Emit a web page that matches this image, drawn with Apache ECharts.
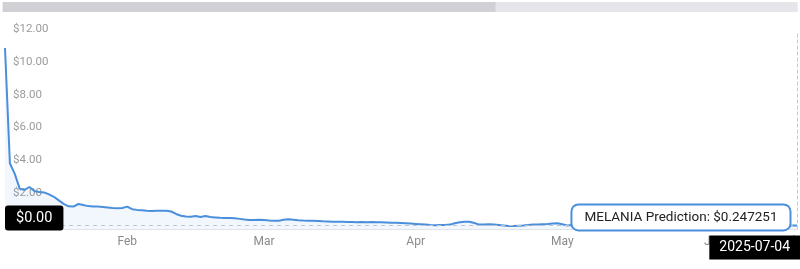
<!DOCTYPE html>
<html>
<head>
<meta charset="utf-8">
<script src="https://cdn.jsdelivr.net/npm/echarts@6/dist/echarts.min.js"></script>
<style>
  html, body { margin: 0; padding: 0; background: #fff; }
  #chart { width: 800px; height: 269px; }
</style>
</head>
<body>
<div id="chart"></div>
<script>
// Categories (dates)
const categories = [
  '2025-01-19 12:00',
  '2025-01-20 00:00','2025-01-20 12:00','2025-01-21 00:00','2025-01-21 12:00',
  '2025-01-22 00:00','2025-01-22 12:00','2025-01-23 00:00','2025-01-23 12:00',
  '2025-01-24 00:00','2025-01-24 12:00','2025-01-25 00:00','2025-01-25 12:00',
  '2025-01-26 00:00','2025-01-26 12:00','2025-01-27 00:00','2025-01-27 12:00',
  '2025-01-28 00:00','2025-01-28 12:00','2025-01-29 00:00','2025-01-29 12:00',
  '2025-01-30 00:00','2025-01-30 12:00','2025-01-31 00:00','2025-01-31 12:00',
  '2025-02-01','2025-02-02','2025-02-03','2025-02-04','2025-02-05','2025-02-06','2025-02-07',
  '2025-02-08','2025-02-09','2025-02-10','2025-02-11','2025-02-12','2025-02-13','2025-02-14',
  '2025-02-15','2025-02-16','2025-02-17','2025-02-18','2025-02-19','2025-02-20','2025-02-21',
  '2025-02-22','2025-02-23','2025-02-24','2025-02-25','2025-02-26','2025-02-27','2025-02-28',
  '2025-03-01','2025-03-02','2025-03-03','2025-03-04','2025-03-05','2025-03-06','2025-03-07',
  '2025-03-08','2025-03-09','2025-03-10','2025-03-11','2025-03-12','2025-03-13','2025-03-14',
  '2025-03-15','2025-03-16','2025-03-17','2025-03-18','2025-03-19','2025-03-20','2025-03-21',
  '2025-03-22','2025-03-23','2025-03-24','2025-03-25','2025-03-26','2025-03-27','2025-03-28',
  '2025-03-29','2025-03-30','2025-03-31',
  '2025-04-01','2025-04-02','2025-04-03','2025-04-04','2025-04-05','2025-04-06','2025-04-07',
  '2025-04-08','2025-04-09','2025-04-10','2025-04-11','2025-04-12','2025-04-13','2025-04-14',
  '2025-04-15','2025-04-16','2025-04-17','2025-04-18','2025-04-19','2025-04-20','2025-04-21',
  '2025-04-22','2025-04-23','2025-04-24','2025-04-25','2025-04-26','2025-04-27','2025-04-28',
  '2025-04-29','2025-04-30',
  '2025-05-01','2025-05-02','2025-05-03','2025-05-04','2025-05-05','2025-05-06','2025-05-07',
  '2025-05-08','2025-05-09','2025-05-10','2025-05-11','2025-05-12','2025-05-13','2025-05-14',
  '2025-05-15','2025-05-16','2025-05-17','2025-05-18','2025-05-19','2025-05-20','2025-05-21',
  '2025-05-22','2025-05-23','2025-05-24','2025-05-25','2025-05-26','2025-05-27','2025-05-28',
  '2025-05-29','2025-05-30','2025-05-31',
  '2025-06-01','2025-06-03','2025-06-05','2025-06-07','2025-06-09','2025-06-11','2025-06-13',
  '2025-06-15','2025-06-17','2025-06-19','2025-06-21','2025-06-23','2025-06-25','2025-06-27',
  '2025-06-29','2025-07-01','2025-07-03','2025-07-04'
];

// Price values (USD)
const prices = [
  // Jan
  11.1, 4.05, 3.4, 2.5, 2.42, 2.6, 2.35, 2.3, 2.27, 2.15, 2.0, 1.78, 1.57, 1.42, 1.4,
  1.56, 1.5, 1.43, 1.41, 1.4, 1.38, 1.35, 1.32, 1.3, 1.32,
  // Feb
  1.4, 1.24, 1.2, 1.18, 1.14, 1.13, 1.14, 1.15, 1.15, 1.1, 0.95, 0.84, 0.8, 0.78,
  0.82, 0.76, 0.82, 0.76, 0.74, 0.72, 0.71, 0.7, 0.69, 0.65, 0.61, 0.58, 0.58, 0.59,
  // Mar
  0.58, 0.55, 0.53, 0.54, 0.6, 0.63, 0.6, 0.57, 0.55, 0.54, 0.53, 0.52, 0.5, 0.49, 0.48,
  0.47, 0.47, 0.46, 0.46, 0.45, 0.46, 0.45, 0.46, 0.45, 0.44, 0.43, 0.42, 0.41, 0.4, 0.38, 0.36,
  // Apr
  0.34, 0.32, 0.3, 0.27, 0.26, 0.27, 0.28, 0.3, 0.38, 0.44, 0.48, 0.47, 0.4, 0.3, 0.3,
  0.32, 0.3, 0.28, 0.25, 0.22, 0.21, 0.23, 0.24, 0.27, 0.3, 0.31, 0.32, 0.33, 0.36, 0.38,
  // May
  0.32, 0.25, 0.27, 0.29, 0.31, 0.33, 0.32, 0.30, 0.31, 0.34, 0.36, 0.35, 0.33, 0.32, 0.30,
  0.31, 0.33, 0.32, 0.30, 0.29, 0.28, 0.29, 0.30, 0.31, 0.30, 0.28, 0.27, 0.28, 0.29, 0.28, 0.27,
  // Jun - Jul
  0.26, 0.25, 0.27, 0.28, 0.26, 0.24, 0.23, 0.24, 0.25, 0.24, 0.22, 0.21, 0.22, 0.23, 0.24,
  0.24, 0.25, 0.247251
];

const monthNames = ['Jan','Feb','Mar','Apr','May','Jun','Jul','Aug','Sep','Oct','Nov','Dec'];
const yTicks = { min: 0, max: 12, interval: 2 };
const seriesName = 'MELANIA Prediction';
const yPointerText = '$0.00';
const yPointerLevel = 0.7;

const lastCat = categories[categories.length - 1];
const lastVal = prices[prices.length - 1];
const FONT = 'Roboto, "Noto Sans", sans-serif';

const chart = echarts.init(document.getElementById('chart'), null, { renderer: 'canvas' });

const option = {
  animation: false,
  backgroundColor: '#fff',
  grid: { left: 5, right: 3, top: 33.3, bottom: 39.5, outerBoundsMode: 'none', containLabel: false },
  xAxis: [
    {
      type: 'category',
      data: categories,
      boundaryGap: false,
      axisLine: { show: true, lineStyle: { color: '#e6e8ec', width: 1 } },
      axisTick: { show: false },
      splitLine: { show: false },
      axisLabel: {
        color: '#8a8a8a',
        fontSize: 12,
        fontFamily: FONT,
        margin: 6,
        interval: function (idx, val) { return val.length === 10 && val.slice(8, 10) === '01'; },
        formatter: function (val) { return monthNames[parseInt(val.slice(5, 7), 10) - 1]; }
      },
      axisPointer: {
        show: true,
        status: 'show',
        value: lastCat,
        triggerTooltip: false,
        type: 'line',
        lineStyle: { color: '#c8c8c8', type: 'dashed', width: 1 },
        label: {
          show: true,
          backgroundColor: '#000',
          color: '#fff',
          fontSize: 14,
          fontFamily: FONT,
          padding: [5, 10],
          margin: 6,
          borderRadius: 0
        }
      }
    },
    {
      type: 'value',
      show: false,
      min: 0,
      max: 100,
      gridIndex: 0
    }
  ],
  yAxis: {
    type: 'value',
    min: yTicks.min,
    max: yTicks.max,
    interval: yTicks.interval,
    axisLine: { show: false },
    axisTick: { show: false },
    splitLine: { show: false },
    axisLabel: {
      inside: true,
      margin: 8,
      verticalAlign: 'bottom',
      padding: [0, 0, -2, 0],
      color: '#9b9b9b',
      fontSize: 11.5,
      fontFamily: FONT,
      formatter: function (v) { return '$' + v.toFixed(2); }
    },
    axisPointer: {
      show: true,
      status: 'show',
      value: yPointerLevel,
      triggerTooltip: false,
      type: 'line',
      lineStyle: { opacity: 0 },
      label: {
        show: true,
        backgroundColor: '#000',
        color: '#fff',
        fontSize: 14.5,
        fontFamily: FONT,
        padding: [5, 11],
        margin: 0,
        formatter: function () { return yPointerText; }
      }
    }
  },
  dataZoom: [
    {
      type: 'slider',
      xAxisIndex: 1,
      filterMode: 'none',
      start: 0,
      end: 62,
      top: 2,
      height: 10,
      left: 2,
      right: 3,
      zoomLock: true,
      brushSelect: false,
      showDetail: false,
      showDataShadow: false,
      borderColor: 'transparent',
      borderRadius: 0,
      backgroundColor: '#e6e6ea',
      fillerColor: '#d0d0d5',
      handleSize: 0,
      handleStyle: { opacity: 0 },
      moveHandleSize: 0,
      moveHandleStyle: { opacity: 0 },
      emphasis: { handleStyle: { opacity: 0 }, moveHandleStyle: { opacity: 0 } },
      dataBackground: { lineStyle: { opacity: 0 }, areaStyle: { opacity: 0 } },
      selectedDataBackground: { lineStyle: { opacity: 0 }, areaStyle: { opacity: 0 } }
    }
  ],
  series: [
    {
      name: seriesName,
      type: 'line',
      data: prices,
      xAxisIndex: 0,
      showSymbol: false,
      symbol: 'none',
      smooth: false,
      lineStyle: { color: '#4a8fdc', width: 2 },
      areaStyle: { color: 'rgba(74,143,220,0.10)' },
      markLine: {
        silent: true,
        symbol: 'none',
        label: { show: false },
        lineStyle: { color: '#bfc3ca', type: [4, 4], width: 1 },
        data: [{ yAxis: lastVal }]
      },
      markPoint: {
        silent: true,
        symbol: 'circle',
        symbolSize: 1,
        itemStyle: { color: 'rgba(0,0,0,0)' },
        data: [{ coord: [lastCat, lastVal] }],
        label: {
          show: true,
          position: 'left',
          distance: 7,
          offset: [0, -8],
          formatter: seriesName + ': $' + lastVal,
          backgroundColor: '#fff',
          borderColor: '#4a8fdc',
          borderWidth: 2,
          borderRadius: 6,
          padding: [5, 12],
          color: '#222',
          fontSize: 13.5,
          fontFamily: FONT
        }
      }
    }
  ]
};

chart.setOption(option);
</script>
</body>
</html>
